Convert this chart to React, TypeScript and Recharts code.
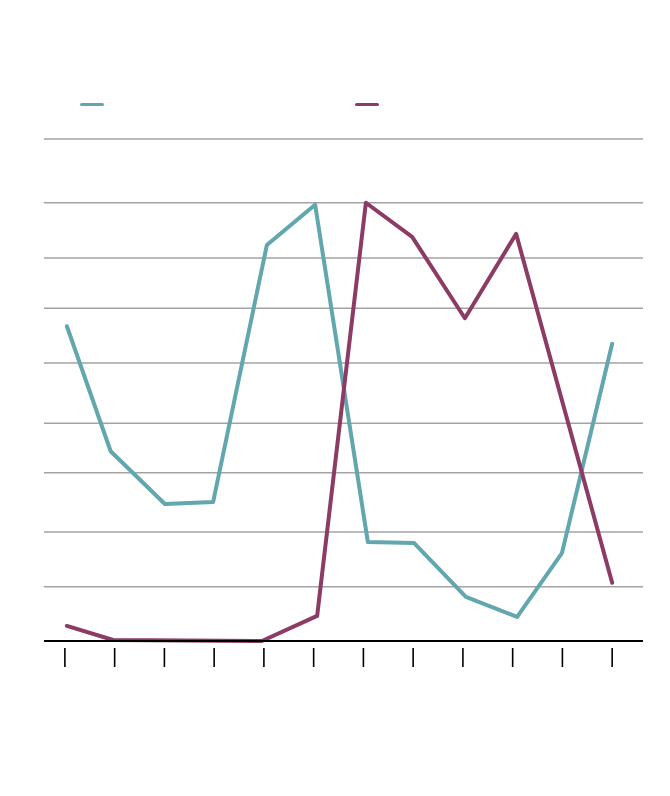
import { CartesianGrid, Legend, Line, LineChart, XAxis, YAxis } from 'recharts';

const X_TICKS = [0, 1, 2, 3, 4, 5, 6, 7, 8, 9, 10, 11];
const Y_TICKS = [0, 10.8, 21.7, 33.5, 43.4, 55.4, 66.3, 76.3, 87.3, 100];

const tealX = [0.04, 0.92, 2.01, 2.98, 4.06, 5.03, 6.09, 7.02, 8.06, 9.09, 9.99, 11.0];
const tealY = [62.7, 37.8, 27.3, 27.7, 78.9, 86.9, 19.7, 19.5, 8.8, 4.8, 17.5, 59.2];

const plumX = [0.04, 0.97, 3.96, 5.07, 6.05, 6.98, 8.04, 9.07, 11.0];
const plumY = [3.0, 0.2, 0, 5.0, 87.3, 80.5, 64.3, 81.1, 11.6];

const TEAL = '#62a6ae';
const PLUM = '#8b3b64';

// merge both series on x so the chart holds one table
const xs = Array.from(new Set([...tealX, ...plumX])).sort((a, b) => a - b);
const data = xs.map((x) => {
  const ti = tealX.indexOf(x);
  const pi = plumX.indexOf(x);
  return {
    x,
    a: ti >= 0 ? tealY[ti] : null,
    b: pi >= 0 ? plumY[pi] : null,
  };
});

const TickMark = (props: any) => {
  const { x, y } = props;
  return <line x1={x} x2={x} y1={y - 1} y2={y + 18} stroke="#000" strokeWidth={1.6} />;
};

const SwatchLegend = (props: any) => (
  <div style={{ display: 'flex' }}>
    {(props.payload || []).map((p: any) => (
      <div key={p.value} style={{ width: 275 }}>
        <div style={{ width: 24, height: 3, borderRadius: 2, background: p.color }} />
      </div>
    ))}
  </div>
);

export default function App() {
  return (
    <div style={{ margin: -8 }}>
      <LineChart
        width={670}
        height={796}
        data={data}
        margin={{ top: 139, right: 27, bottom: 125, left: 44 }}
      >
        <CartesianGrid vertical={false} stroke="#a3a3a3" strokeWidth={1.5} />
        <XAxis
          type="number"
          dataKey="x"
          domain={[-0.42, 11.62]}
          ticks={X_TICKS}
          height={30}
          axisLine={{ stroke: '#000', strokeWidth: 2 }}
          tickLine={false}
          tick={TickMark}
        />
        <YAxis type="number" domain={[0, 100]} ticks={Y_TICKS} hide />
        <Legend
          layout="horizontal"
          verticalAlign="middle"
          align="center"
          itemSorter={null}
          content={SwatchLegend}
          wrapperStyle={{ top: 103, left: 80, width: 600 }}
        />
        <Line
          dataKey="a"
          name="a"
          stroke={TEAL}
          strokeWidth={4}
          strokeLinecap="round"
          strokeLinejoin="round"
          dot={false}
          connectNulls
          isAnimationActive={false}
        />
        <Line
          dataKey="b"
          name="b"
          stroke={PLUM}
          strokeWidth={4}
          strokeLinecap="round"
          strokeLinejoin="round"
          dot={false}
          connectNulls
          isAnimationActive={false}
        />
      </LineChart>
    </div>
  );
}
